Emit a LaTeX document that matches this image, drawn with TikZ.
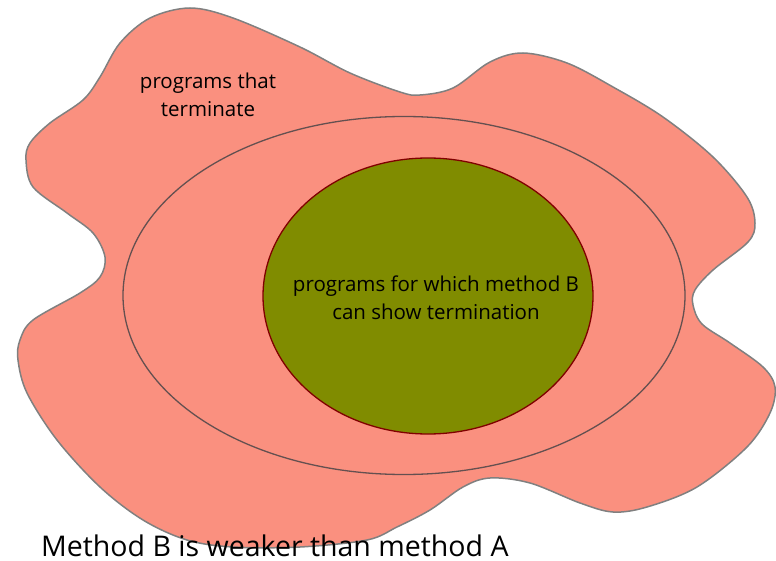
\documentclass[tikz,border=0pt]{standalone}
\usepackage{fontspec}
\setmainfont{Open Sans}
\usetikzlibrary{shapes.geometric}
\definecolor{salmon}{RGB}{250,144,127}
\definecolor{blobline}{RGB}{128,128,128}
\definecolor{ellline}{RGB}{100,80,80}
\definecolor{olivefill}{RGB}{128,140,0}
\definecolor{darkred}{RGB}{128,0,0}
\tikzset{
  blob/.style={fill=salmon, draw=blobline, line width=1.5pt},
  midell/.style={fill=salmon, draw=ellline, line width=1.3pt},
  innerell/.style={fill=olivefill, draw=darkred, line width=1.3pt},
  lbl/.style={align=center, font=\fontsize{20.5}{27.5}\selectfont, text=black, inner sep=0pt},
  caption/.style={font=\fontsize{28.5}{30}\selectfont, text=black, inner sep=0pt, anchor=west}
}
\begin{document}
\begin{tikzpicture}[x=1pt,y=-1pt]
\useasboundingbox (0,0) rectangle (776,561);
\draw[blob] plot[smooth cycle, tension=0.55] coordinates {
(190,8) (233,18) (300,47) (350,73) (400,92) (420,95) (453,88) (490,62)
(523,53) (567,63) (613,87) (663,117) (713,157) (747,197) (755,223)
(748,242) (713,270) (695,290) (693,305) (702,324) (730,343) (763,367)
(775,387) (770,413) (747,447) (697,487) (647,507) (613,512) (580,503)
(530,483) (490,478) (463,487) (430,510) (397,527) (367,540) (300,547)
(233,547) (187,540) (143,520) (100,487) (57,440) (27,393) (18,360)
(20,340) (33,320) (80,293) (100,277) (105,257) (93,233) (67,213)
(33,187) (26,160) (30,143) (50,123) (83,100) (100,77) (120,43) (150,18)};
\node[midell, ellipse, minimum width=562, minimum height=358, inner sep=0pt] (mid) at (404,295.5) {};
\node[innerell, ellipse, minimum width=330, minimum height=276, inner sep=0pt] (inner) at (428,296) {};
\node[lbl] (outerlbl) at (208,95) {programs that\\terminate};
\node[lbl] (innerlbl) at (436,298) {programs for which method B\\can show termination};
\node[caption] (cap) at (41,545.5) {Method B is weaker than method A};
\end{tikzpicture}
\end{document}
